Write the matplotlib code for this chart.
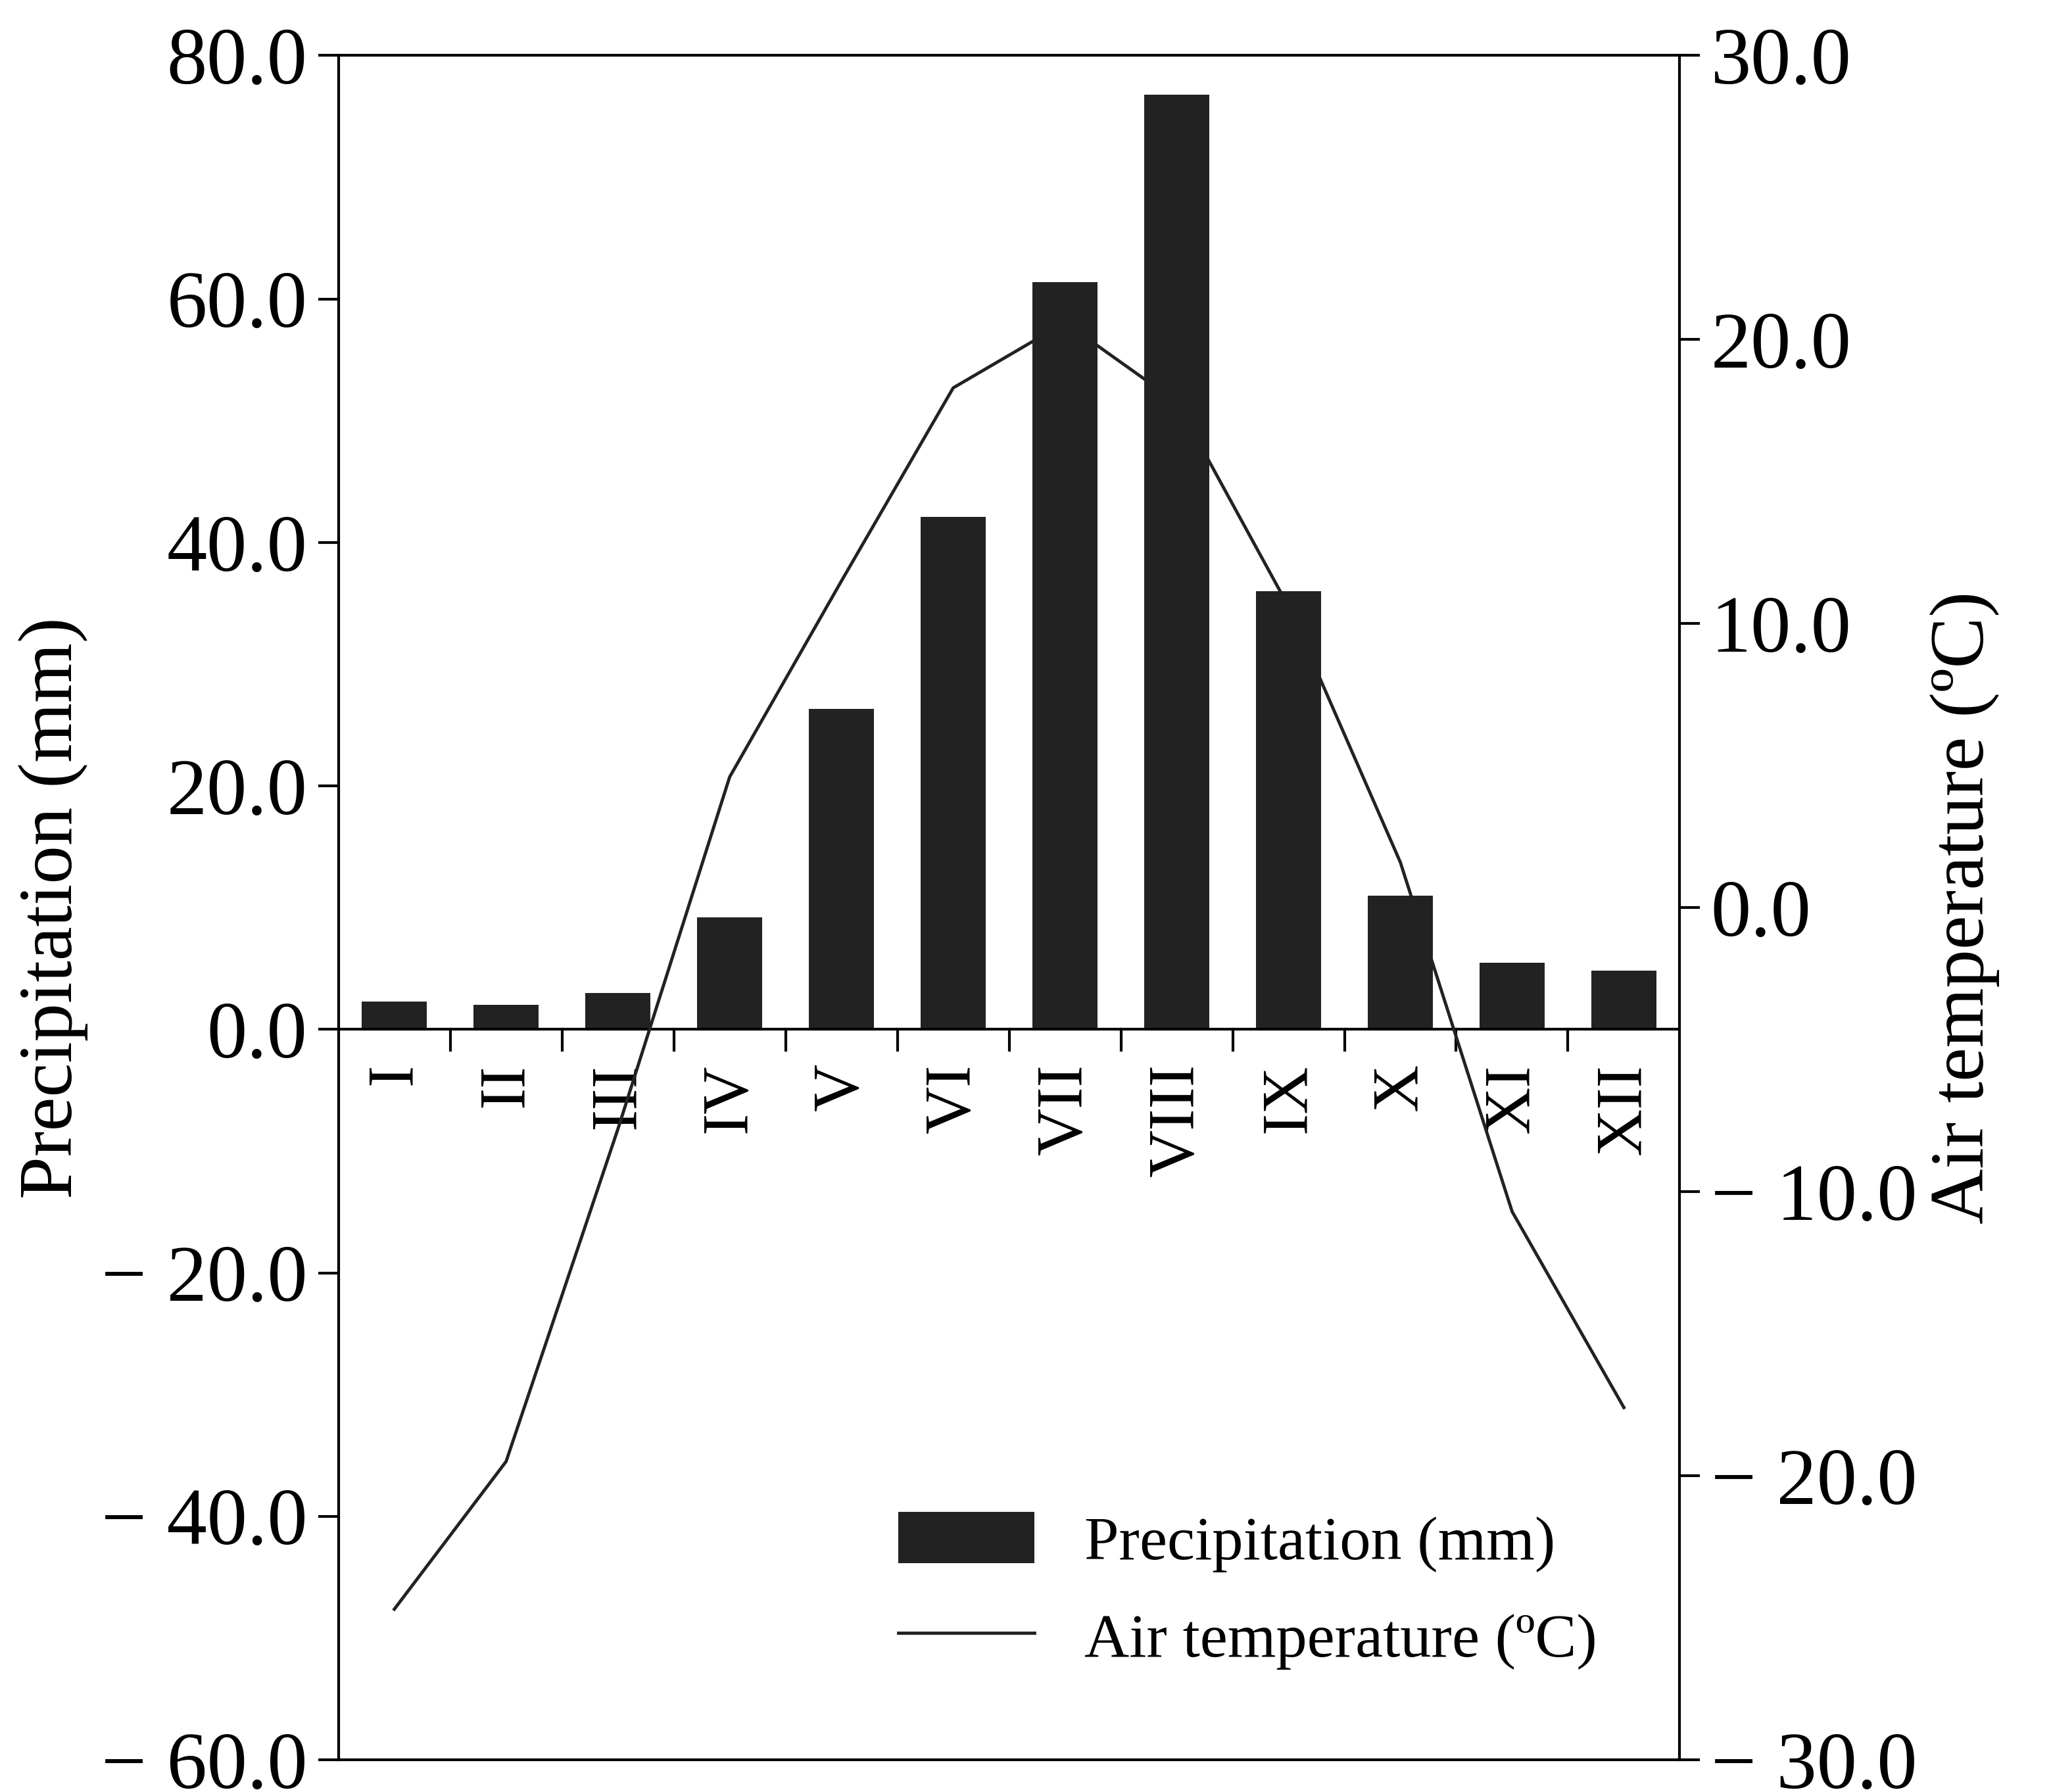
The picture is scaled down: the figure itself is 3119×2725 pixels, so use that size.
import matplotlib.pyplot as plt
from matplotlib.ticker import FuncFormatter
import numpy as np

plt.rcParams['font.family'] = 'Liberation Serif'

months = ['I', 'II', 'III', 'IV', 'V', 'VI', 'VII', 'VIII', 'IX', 'X', 'XI', 'XII']
precip = [2.3, 2.0, 3.0, 9.2, 26.3, 42.1, 61.4, 76.8, 36.0, 11.0, 5.5, 4.8]
temp = [-24.7, -19.5, -7.8, 4.6, 11.5, 18.3, 20.6, 17.8, 10.6, 1.6, -10.7, -17.6]


def fmt(v, pos):
    if v < 0:
        return '\u2212 %.1f' % abs(v)
    return '%.1f' % v


fig = plt.figure(figsize=(31.19, 27.25), dpi=100)
ax = fig.add_axes([0.165, 0.018, 0.654, 0.951])
x = np.arange(len(months))

bars = ax.bar(x, precip, width=0.58, color='#222222', label='Precipitation (mm)', zorder=2)
ax.set_xlim(-0.5, 11.5)
ax.set_ylim(-60, 80)
ax.set_yticks(np.arange(-60, 81, 20))
ax.yaxis.set_major_formatter(FuncFormatter(fmt))
ax.set_xticks([])
ax.tick_params(axis='y', labelsize=88, length=22, width=3, pad=12)
ax.set_ylabel('Precipitation (mm)', fontsize=84, labelpad=14)
for s in ax.spines.values():
    s.set_linewidth(3)

# zero line with separators and month labels
ax.axhline(0, color='black', lw=3, zorder=3)
for b in np.arange(0.5, 11.5, 1):
    ax.plot([b, b], [0, -1.7], color='black', lw=3)
for i, m in enumerate(months):
    ax.text(i, -2.8, m, rotation=90, ha='center', va='top', fontsize=72)

ax2 = ax.twinx()
line, = ax2.plot(x, temp, color='#222222', lw=3.5, label='Air temperature (\u00baC)')
ax2.set_ylim(-30, 30)
ax2.set_yticks(np.arange(-30, 31, 10))
ax2.yaxis.set_major_formatter(FuncFormatter(fmt))
ax2.tick_params(axis='y', labelsize=88, length=22, width=3, pad=12)
ax2.set_ylabel('Air temperature (\u00baC)', fontsize=84, labelpad=14)

ax2.legend([bars, line], ['Precipitation (mm)', 'Air temperature (\u00baC)'],
           loc='lower right', bbox_to_anchor=(0.98, 0.02), frameon=False,
           fontsize=68, handlelength=2.2, handleheight=0.9, labelspacing=0.6)

fig.savefig('out.png', dpi=100)
